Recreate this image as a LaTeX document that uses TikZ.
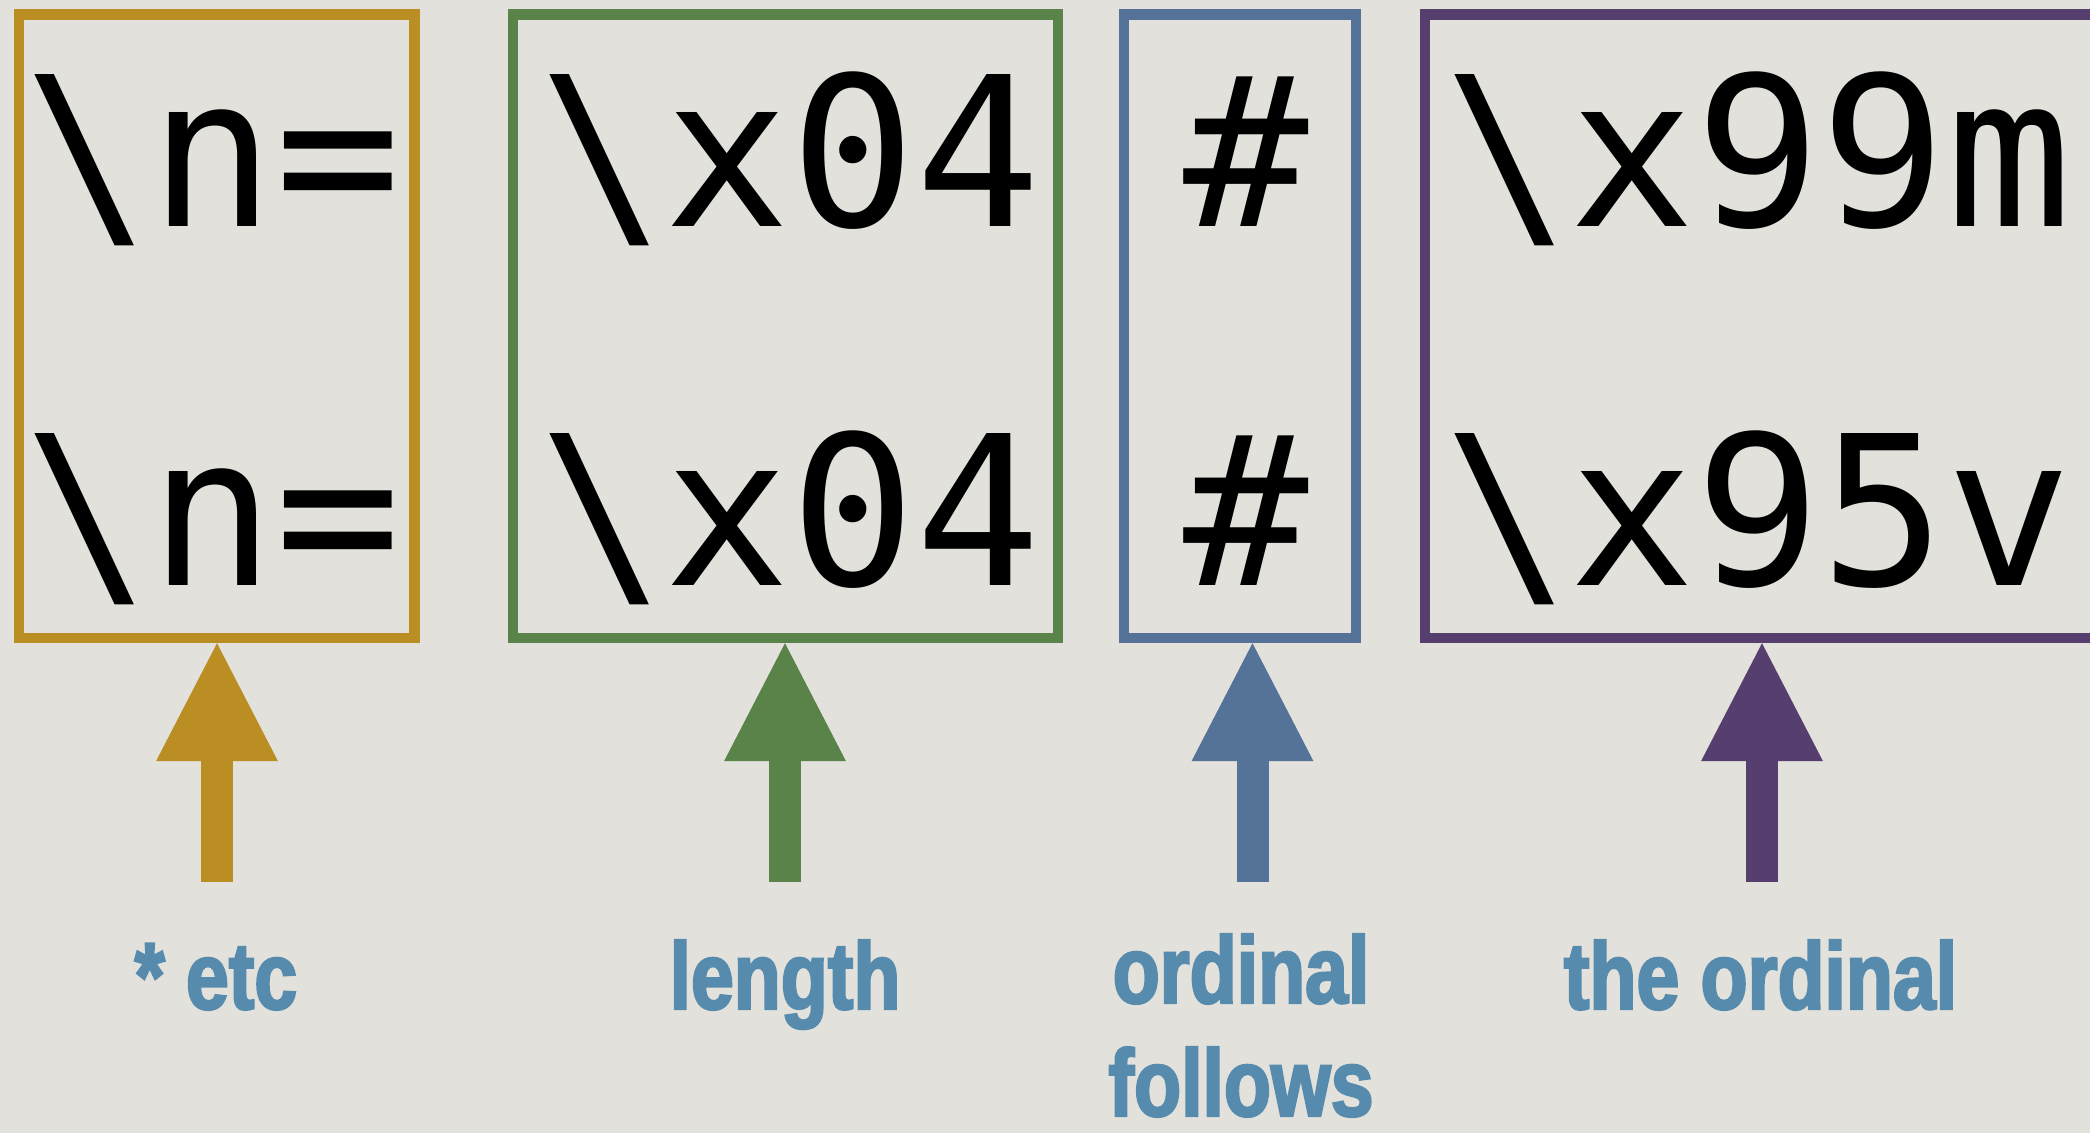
\documentclass[tikz,border=0pt]{standalone}
\usepackage{fontspec}
\usetikzlibrary{arrows.meta}
\newfontfamily\codefont{DejaVu Sans Mono}
\newfontfamily\labfont[FakeStretch=0.81, BoldFeatures={FakeBold=2.5}]{Liberation Sans}
\definecolor{bg}{HTML}{E2E1DB}
\definecolor{cgold}{HTML}{BA8E22}
\definecolor{cgreen}{HTML}{5A834A}
\definecolor{cblue}{HTML}{557299}
\definecolor{cpurple}{HTML}{563F6E}
\definecolor{clab}{HTML}{578BAE}
\begin{document}
\begin{tikzpicture}[x=0.5pt,y=-0.5pt,
  frame/.style={draw=#1, line width=5.25pt, inner sep=0pt, minimum height=311.75pt},
  upar/.style={draw=#1, line width=16pt, line cap=butt,
    -{Triangle[width=61pt,length=59pt,line width=0pt]}},
  code/.style={font=\codefont\fontsize{104.25pt}{125pt}\selectfont, text=black, inner sep=0pt, anchor=base west},
  lab/.style={font=\labfont\bfseries\fontsize{47.5pt}{58pt}\selectfont, text=clab, inner sep=0pt, anchor=base}]
\useasboundingbox (0,0) rectangle (2090,1133);
\clip (0,0) rectangle (2090,1133);
\fill[bg] (0,0) rectangle (2090,1133);
% boxes
\node[frame=cgold, minimum width=197.75pt] (gold) at (216.75,326.25) {};
\node[frame=cgreen, minimum width=272.5pt] (green) at (785.5,326.25) {};
\node[frame=cblue, minimum width=116pt] (blue) at (1240,326.25) {};
\node[frame=cpurple, minimum width=357.5pt] (purple) at (1782.5,326.25) {};
% code text
\node[code] (g1) at (24,227) {\textbackslash n=};
\node[code] (g2) at (24,586) {\textbackslash n=};
\node[code] (e1) at (539,227) {\textbackslash x04};
\node[code] (e2) at (539,586) {\textbackslash x04};
\node[code] (b1) at (1183,227) {\#};
\node[code] (b2) at (1183,586) {\#};
\node[code] (p1) at (1444,227) {\textbackslash x99m};
\node[code] (p2) at (1444,586) {\textbackslash x95v};
% arrows
\coordinate (ga) at (217,882);
\coordinate (ea) at (785,882);
\coordinate (ba) at (1252.5,882);
\coordinate (pa) at (1762,882);
\draw[upar=cgold] (ga) -- (ga |- gold.south);
\draw[upar=cgreen] (ea) -- (ea |- green.south);
\draw[upar=cblue] (ba) -- (ba |- blue.south);
\draw[upar=cpurple] (pa) -- (pa |- purple.south);
% labels
\node[lab] (l1) at (216,1009) {* etc};
\node[lab] (l2) at (785,1009) {length};
\node[lab] (l3) at (1241,1003) {ordinal};
\node[lab] (l3b) at (1241,1116) {follows};
\node[lab] (l4) at (1760.5,1009) {the ordinal};
\end{tikzpicture}
\end{document}
